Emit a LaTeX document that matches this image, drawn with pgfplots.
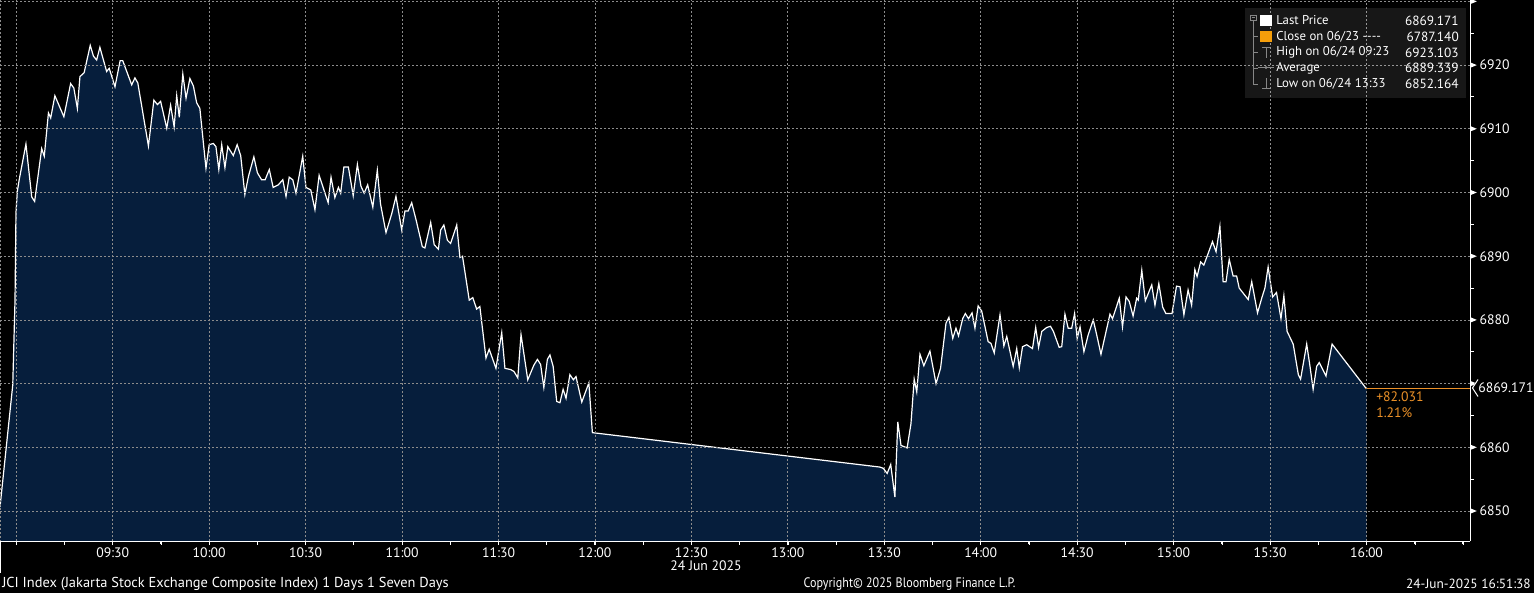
\documentclass[border=0pt]{standalone}
\usepackage{fontspec}
\setmainfont{PT Sans}
\usepackage{graphicx}
\usepackage{pgfplots}
\pgfplotsset{compat=1.18}
\usepackage{pgfplotstable}
\definecolor{navy}{RGB}{6,30,60}
\definecolor{gridc}{RGB}{140,140,140}
\definecolor{bbor}{RGB}{236,145,40}
\definecolor{sqor}{RGB}{245,158,10}
\definecolor{icong}{RGB}{135,135,135}

% t = minutes after 09:00 (24 Jun 2025), v = JCI index level
\pgfplotstableread{
t v
-5.07 6850.6
-1.1 6869.8
-0.4 6883.1
-0.1 6896.8
0.3 6900.1
0.9 6902.0
3.0 6907.6
4.8 6899.3
5.7 6898.6
7.9 6906.9
8.7 6905.7
10.0 6912.5
10.7 6911.7
12.0 6915.2
14.8 6911.9
16.9 6917.1
17.9 6916.4
19.0 6913.2
19.8 6918.2
21.1 6918.8
23.0 6923.1
24.0 6921.4
25.0 6920.8
26.0 6922.8
28.1 6919.0
28.9 6919.5
30.7 6916.6
32.3 6920.7
33.1 6920.7
35.9 6916.9
36.9 6918.0
37.8 6917.2
41.1 6907.3
42.8 6914.5
43.9 6913.8
44.9 6914.3
46.8 6910.1
48.0 6913.7
49.1 6910.3
49.9 6915.2
50.7 6911.8
51.8 6918.6
52.8 6914.8
54.0 6917.9
55.1 6916.7
56.1 6914.1
57.1 6913.2
59.0 6903.8
60.0 6907.5
61.3 6907.7
62.1 6907.2
63.0 6903.6
63.9 6907.5
64.9 6903.9
65.8 6907.2
67.5 6905.8
68.7 6907.5
69.8 6905.8
71.1 6899.7
72.2 6902.5
73.9 6905.6
75.0 6903.1
76.3 6902.0
77.4 6902.0
78.7 6903.6
79.9 6900.8
81.5 6901.2
82.9 6902.0
83.9 6899.4
84.9 6902.4
86.0 6902.0
87.0 6899.9
89.1 6905.7
90.1 6900.8
91.6 6900.4
92.9 6897.3
94.2 6902.7
95.5 6900.7
97.0 6898.4
97.9 6902.4
99.1 6899.2
100.2 6900.8
100.9 6899.9
101.9 6904.0
103.3 6904.0
104.8 6899.5
106.1 6904.4
107.2 6901.0
108.2 6899.9
109.3 6901.2
110.9 6897.7
112.3 6903.5
113.3 6898.2
115.0 6893.7
116.8 6896.7
118.1 6899.4
119.9 6894.1
120.9 6897.1
121.9 6897.1
123.0 6898.4
124.5 6895.4
126.3 6891.5
127.1 6891.3
128.9 6895.3
130.0 6891.8
131.3 6891.1
132.0 6894.1
133.0 6894.9
134.1 6892.5
135.1 6892.0
137.0 6894.9
138.0 6889.8
138.8 6890.0
140.9 6883.1
142.0 6883.5
143.2 6881.7
144.2 6882.1
146.1 6874.0
147.1 6875.4
149.2 6872.4
151.0 6878.0
152.0 6872.4
153.8 6872.2
154.8 6871.9
156.0 6870.9
157.0 6877.7
159.1 6870.6
161.0 6872.9
162.1 6873.8
163.1 6873.0
164.1 6869.4
165.2 6873.8
166.0 6874.5
167.0 6872.7
168.1 6867.2
169.1 6867.0
170.1 6869.1
171.0 6867.7
172.2 6871.4
173.3 6870.6
174.1 6871.1
175.9 6867.1
178.1 6870.1
179.2 6862.3
268.6 6856.9
269.7 6856.7
270.9 6855.9
272.0 6857.3
273.3 6852.2
274.2 6864.0
275.2 6860.3
277.1 6859.9
278.3 6863.7
279.3 6870.7
280.1 6868.7
281.1 6874.6
282.3 6872.8
284.2 6875.1
286.1 6870.0
287.5 6872.4
289.2 6879.5
290.1 6880.4
291.3 6877.1
292.3 6878.7
293.1 6877.5
294.4 6880.2
295.2 6881.0
296.2 6880.2
297.3 6881.1
298.2 6878.7
299.2 6882.2
300.3 6881.4
302.3 6876.6
303.2 6876.3
304.2 6874.8
306.0 6880.8
307.2 6875.9
308.1 6877.4
310.1 6872.7
311.2 6875.5
312.0 6872.5
313.0 6875.8
314.3 6876.1
316.1 6875.5
317.1 6878.8
318.0 6875.7
319.0 6878.2
320.5 6878.8
321.7 6879.0
322.6 6878.2
324.4 6875.7
325.2 6875.8
326.2 6880.9
327.2 6878.7
328.3 6878.7
329.2 6881.0
330.0 6877.1
330.9 6878.9
332.1 6875.0
333.4 6877.6
335.0 6880.0
336.1 6877.6
337.4 6874.6
340.2 6880.9
341.0 6880.2
343.1 6883.4
344.1 6878.9
345.2 6883.6
346.2 6882.9
347.4 6880.6
348.5 6883.4
349.0 6883.1
350.1 6887.8
351.2 6883.0
353.2 6885.5
354.2 6882.3
355.4 6885.7
356.6 6882.0
357.6 6881.0
359.5 6881.0
360.9 6885.3
362.0 6885.2
363.2 6880.8
364.5 6884.7
365.6 6882.3
366.6 6887.9
367.3 6886.8
368.4 6889.1
369.4 6888.6
372.1 6892.3
373.2 6890.7
374.4 6894.7
375.4 6886.0
376.3 6886.0
377.3 6889.5
378.5 6886.9
379.6 6886.9
380.4 6885.0
383.2 6883.2
384.3 6886.0
386.1 6881.1
387.4 6883.4
388.4 6885.0
389.4 6888.3
390.8 6883.6
392.0 6884.3
393.4 6880.2
394.3 6883.8
395.3 6878.2
397.2 6876.2
398.8 6871.4
399.5 6870.7
401.4 6876.2
402.4 6872.8
403.4 6869.1
404.5 6872.7
405.3 6873.3
407.4 6871.2
409.3 6876.2
420.0 6869.171
}\jci

\begin{document}
\begin{tikzpicture}
\fill[black] (0,-39pt) rectangle (1150.5pt,405.75pt);
\begin{axis}[
  at={(0,0)}, anchor=south west, scale only axis,
  width=1102.5pt, height=405.75pt,
  xmin=-5.07, xmax=452.2, ymin=6845.29, ymax=6930.22,
  axis on top, clip=false,
  axis background/.style={fill=black},
  axis x line*=bottom, axis y line*=right,
  axis line style={white, line width=0.75pt},
  xtick={0,30,...,420},
  xticklabels={,09:30,10:00,10:30,11:00,11:30,12:00,12:30,13:00,13:30,14:00,14:30,15:00,15:30,16:00},
  minor xtick={15,45,75,105,135,165,195,225,255,285,315,345,375,405,435,450},
  ytick={6850,6860,6880,6890,6900,6910,6920},
  minor ytick={6855,6865,...,6925},
  extra y ticks={6870,6930}, extra y tick labels={},
  extra tick style={grid=major, major tick style={draw=none}},
  tick align=outside,
  major tick length=3pt, minor tick length=2.5pt,
  tick style={white, line width=0.75pt},
  major y tick style={draw=none},
  grid=major,
  major grid style={gridc, line width=0.6pt, dash pattern=on 1.2pt off 1.8pt},
  /pgf/number format/assume math mode=true,
  /pgf/number format/1000 sep={},
  xticklabel style={font=\fontsize{10.3}{12}\selectfont, text=white, yshift=1.5pt},
  yticklabel style={font=\fontsize{10.3}{12}\selectfont, text=white, anchor=west, inner sep=0pt, xshift=4pt},
]
\addplot[fill=navy, draw=none] table[x=t,y=v]{\jci} -- (axis cs:420,6845.29) -- (axis cs:-5.07,6845.29) -- cycle;
\addplot[white, line width=0.9pt] table[x=t,y=v]{\jci};
\addplot[bbor, line width=0.75pt] coordinates {(419.5,6869.171) (452.2,6869.171)};
\end{axis}
\begin{scope}[x=0.75pt,y=-0.75pt,shift={(0pt,405.75pt)}]
  \draw[gridc, line width=0.6pt, dash pattern=on 1.2pt off 1.8pt] (0.5,0) -- (0.5,541);
  \draw[white, line width=0.75pt] (0.5,541) -- (0.5,573);
  % axis decorations: arrow-shaped major ticks and short minor ticks on the right axis
  \foreach \yy in {1.4,65.1,128.8,192.5,256.2,319.9,383.6,447.3,511} {
    \fill[white] (1470.5,\yy-2.6) -- (1476.8,\yy) -- (1470.5,\yy+2.6) -- cycle;
  }
  \foreach \yy in {33.2,97,160.7,224.4,288.1,351.8,415.5,479.2} {
    \draw[white, line width=0.75pt] (1470,\yy) -- (1474,\yy);
  }
  \foreach \xx in {16.3,64.5,112.7,161,209.2,257.4,305.7,353.9,402.1,450.4,498.6,546.8,595.1,643.3,691.5,739.8,788,836.2,884.5,932.7,980.9,1029.2,1077.4,1125.6,1173.9,1222.1,1270.3,1318.6,1366.8,1415,1463.3} {
    \draw[white, line width=0.75pt] (\xx,541) -- (\xx,545);
  }
  % last price tag
  \fill[black] (1477,379.5) -- (1472,388) -- (1477,396.5) -- (1534,396.5) -- (1534,379.5) -- cycle;
  \draw[white, line width=0.75pt] (1478,379.5) -- (1472.5,388) -- (1478,396.5);
  \node[anchor=west, inner sep=0pt, text=white, font=\fontsize{10.3}{12}\selectfont] at (1478,388) {6869.171};
  \node[anchor=west, inner sep=0pt, text=bbor, font=\fontsize{10.3}{12}\selectfont] at (1376,397) {+82.031};
  \node[anchor=west, inner sep=0pt, text=bbor, font=\fontsize{10.3}{12}\selectfont] at (1376,413) {1.21\%};
  % date under axis
  \node[inner sep=0pt, text=white, font=\fontsize{10.3}{12}\selectfont] at (706,566) {24 Jun 2025};
  % footer
  \node[anchor=west, inner sep=0pt, text=white, font=\fontsize{10.8}{13}\selectfont] at (2,584) {JCI Index (Jakarta Stock Exchange Composite Index) 1 Days 1 Seven Days};
  \node[inner sep=0pt, text=white, font=\fontsize{10.3}{12}\selectfont] at (909.5,584) {\scalebox{0.88}[1]{Copyright© 2025 Bloomberg Finance L.P.}};
  \node[anchor=east, inner sep=0pt, text=white, font=\fontsize{10}{12}\selectfont] at (1531,584) {24-Jun-2025 16:51:38};
  % legend
  \fill[white, fill opacity=0.09] (1245,8) rectangle (1466,98);
  \draw[icong, line width=0.6pt] (1250.5,15) rectangle (1256,20.5);
  \draw[icong, line width=0.6pt] (1251.6,17.75) -- (1254.9,17.75);
  \draw[icong, line width=0.6pt] (1253.3,20.5) -- (1253.3,84) -- (1258,84);
  \draw[icong, line width=0.6pt] (1253.3,36.5) -- (1258,36.5);
  \draw[icong, line width=0.6pt] (1253.3,52.5) -- (1258,52.5);
  \draw[icong, line width=0.6pt] (1253.3,68) -- (1258,68);
  \fill[white] (1260,15) rectangle (1272,26);
  \fill[sqor] (1260,31) rectangle (1272,42);
  \draw[icong, line width=0.7pt] (1262,47.5) -- (1270,47.5) (1266,47.5) -- (1266,58);
  \draw[icong, line width=0.7pt] (1258,67.5) -- (1274,67.5);
  \fill[icong] (1266,67.5) circle (1.6);
  \draw[icong, line width=0.7pt] (1262,88.5) -- (1270,88.5) (1266,78) -- (1266,88.5);
  \tikzset{lgl/.style={anchor=west, inner sep=0pt, text=white, font=\fontsize{9.6}{12}\selectfont},
           lgv/.style={anchor=east, inner sep=0pt, text=white, font=\fontsize{10}{12}\selectfont}}
  \node[lgl] at (1276,20.5) {Last Price};
  \node[lgl] at (1276,36.5) {Close on 06/23 -{}-{}-{}-};
  \node[lgl] at (1276,52.5) {High on 06/24 09:23};
  \node[lgl] at (1276,68) {Average};
  \node[lgl] at (1276,84) {Low on 06/24 13:33};
  \node[lgv] at (1459,20.5) {6869.171};
  \node[lgv] at (1459,36.5) {6787.140};
  \node[lgv] at (1459,52.5) {6923.103};
  \node[lgv] at (1459,68) {6889.339};
  \node[lgv] at (1459,84) {6852.164};
\end{scope}
\pgfresetboundingbox
\path (0,-39pt) rectangle (1150.5pt,405.75pt);
\end{tikzpicture}
\end{document}
